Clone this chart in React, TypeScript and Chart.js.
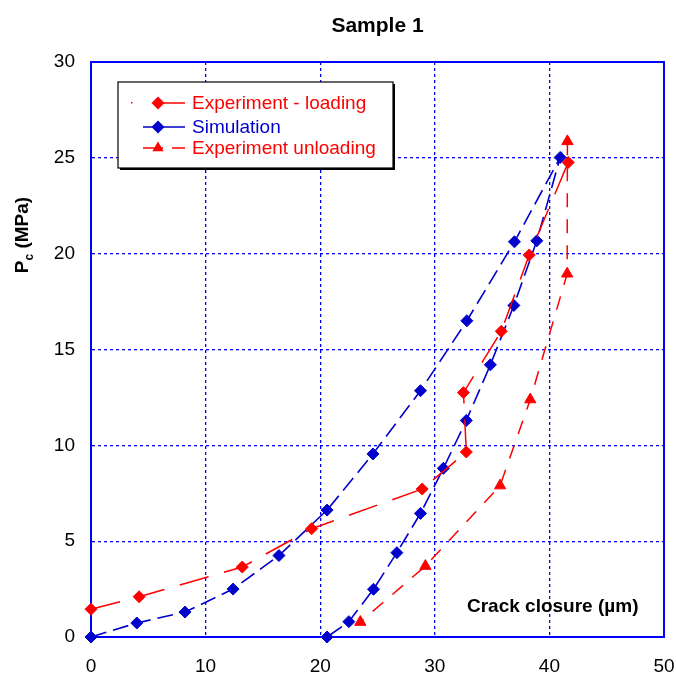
import React, { useEffect, useRef } from "react";
import { Chart, registerables } from "chart.js";

Chart.register(...registerables);

// ---- data ----
const chartTitle = "Sample 1";
const xAxisTitle = "Crack closure (µm)";
const yAxisMain = "P";
const yAxisSub = "c";
const yAxisRest = " (MPa)";
const xTicks = [0, 10, 20, 30, 40, 50];
const yTicks = [0, 5, 10, 15, 20, 25, 30];

const seriesNames = ["Experiment - loading", "Simulation", "Experiment unloading"];

const loadX = [0, 4.2, 13.2, 19.25, 28.9, 32.75, 32.5, 35.8, 38.24, 41.64];
const loadY = [1.45, 2.1, 3.65, 5.65, 7.72, 9.65, 12.75, 15.95, 19.93, 24.76];

const simX = [0, 4.0, 8.2, 12.4, 16.4, 20.6, 24.6, 28.75, 32.8, 36.95, 40.94, 38.9, 36.9, 34.85, 32.75, 30.75, 28.75, 26.69, 24.65, 22.5, 20.6];
const simY = [0, 0.73, 1.3, 2.5, 4.25, 6.62, 9.55, 12.85, 16.5, 20.62, 25.02, 20.67, 17.3, 14.2, 11.3, 8.8, 6.45, 4.4, 2.49, 0.8, 0];

const unloadX = [41.57, 41.55, 38.33, 35.7, 29.18, 23.5];
const unloadY = [25.86, 18.95, 12.39, 7.9, 3.7, 0.78];

// ---- styles ----
const FONT = '"Liberation Sans", Arial, sans-serif';
const RED = "#FF0000";
const BLUE = "#0000CC";
const GRID = "#0000FF";

const pts = (xs: number[], ys: number[]) => xs.map((x, i) => ({ x, y: ys[i] }));

const decor = {
  id: "decor",
  beforeDatasetsDraw(chart: any) {
    const { ctx, chartArea: a } = chart;
    ctx.save();
    ctx.strokeStyle = GRID;
    ctx.lineWidth = 2;
    ctx.setLineDash([]);
    ctx.strokeRect(a.left, a.top, a.right - a.left, a.bottom - a.top);
    ctx.restore();
  },
  afterDatasetsDraw(chart: any) {
    const { ctx, chartArea: a } = chart;
    ctx.save();
    // title
    ctx.fillStyle = "#000";
    ctx.font = `bold 21px ${FONT}`;
    ctx.textAlign = "center";
    ctx.textBaseline = "middle";
    ctx.fillText(chartTitle, (a.left + a.right) / 2, 26);

    // x axis title inside plot
    ctx.font = `bold 19px ${FONT}`;
    ctx.textAlign = "left";
    ctx.textBaseline = "alphabetic";
    ctx.fillText(xAxisTitle, a.right - 197, a.bottom - 25.5);

    // y axis title rotated
    ctx.save();
    ctx.translate(28, 235);
    ctx.rotate(-Math.PI / 2);
    ctx.font = `bold 19px ${FONT}`;
    const wP = ctx.measureText(yAxisMain).width;
    const wR = ctx.measureText(yAxisRest).width;
    ctx.font = `bold 12px ${FONT}`;
    const wc = ctx.measureText(yAxisSub).width;
    let x0 = -(wP + wc + wR) / 2;
    ctx.textAlign = "left";
    ctx.textBaseline = "alphabetic";
    ctx.font = `bold 19px ${FONT}`;
    ctx.fillText(yAxisMain, x0, 0);
    ctx.font = `bold 12px ${FONT}`;
    ctx.fillText(yAxisSub, x0 + wP, 5);
    ctx.font = `bold 19px ${FONT}`;
    ctx.fillText(yAxisRest, x0 + wP + wc, 0);
    ctx.restore();

    // legend box
    const bx = a.left + 27, by = a.top + 20, bw = 275, bh = 86;
    ctx.fillStyle = "#000";
    ctx.fillRect(bx + 2, by + 2, bw, bh);
    ctx.fillStyle = "#fff";
    ctx.fillRect(bx, by, bw, bh);
    ctx.strokeStyle = "#000";
    ctx.lineWidth = 1.2;
    ctx.strokeRect(bx, by, bw, bh);

    const rows = [by + 21, by + 45, by + 66];
    const mx = bx + 40;
    const colors = [RED, BLUE, RED];
    ctx.lineWidth = 1.5;
    // row 1
    ctx.strokeStyle = RED;
    ctx.fillStyle = RED;
    ctx.fillRect(bx + 13, rows[0] - 1, 1.5, 1.5);
    ctx.beginPath();
    ctx.moveTo(mx, rows[0]);
    ctx.lineTo(bx + 67, rows[0]);
    ctx.stroke();
    // row 2
    ctx.strokeStyle = BLUE;
    ctx.beginPath();
    ctx.moveTo(bx + 25, rows[1]);
    ctx.lineTo(bx + 67, rows[1]);
    ctx.stroke();
    // row 3
    ctx.strokeStyle = RED;
    ctx.beginPath();
    ctx.moveTo(bx + 25, rows[2]);
    ctx.lineTo(bx + 45, rows[2]);
    ctx.moveTo(bx + 54, rows[2]);
    ctx.lineTo(bx + 67, rows[2]);
    ctx.stroke();
    // markers
    const diamond = (cx: number, cy: number, r: number, c: string) => {
      ctx.fillStyle = c;
      ctx.beginPath();
      ctx.moveTo(cx - r, cy);
      ctx.lineTo(cx, cy - r);
      ctx.lineTo(cx + r, cy);
      ctx.lineTo(cx, cy + r);
      ctx.closePath();
      ctx.fill();
    };
    diamond(mx, rows[0], 6.5, RED);
    diamond(mx, rows[1], 6.5, BLUE);
    ctx.fillStyle = RED;
    ctx.beginPath();
    const r = 6.5;
    ctx.moveTo(mx, rows[2] - r);
    ctx.lineTo(mx + r * 0.866, rows[2] + r / 2);
    ctx.lineTo(mx - r * 0.866, rows[2] + r / 2);
    ctx.closePath();
    ctx.fill();

    ctx.font = `19px ${FONT}`;
    ctx.textAlign = "left";
    ctx.textBaseline = "middle";
    seriesNames.forEach((n, i) => {
      ctx.fillStyle = colors[i];
      ctx.fillText(n, bx + 74, rows[i] + 1);
    });
    ctx.restore();
  },
};

export default function App() {
  const ref = useRef<HTMLCanvasElement>(null);
  useEffect(() => {
    const canvas = ref.current;
    if (!canvas) return;
    const chart = new Chart(canvas, {
      type: "line",
      data: {
        datasets: [
          {
            label: seriesNames[0],
            data: pts(loadX, loadY),
            borderColor: RED,
            backgroundColor: RED,
            pointBackgroundColor: RED,
            pointBorderColor: RED,
            pointStyle: "rectRot",
            pointRadius: 6,
            pointBorderWidth: 1,
            borderWidth: 1.5,
            borderDash: [30, 16],
            tension: 0,
            fill: false,
            clip: false,
          } as any,
          {
            label: seriesNames[1],
            data: pts(simX, simY),
            borderColor: BLUE,
            backgroundColor: BLUE,
            pointBackgroundColor: BLUE,
            pointBorderColor: BLUE,
            pointStyle: "rectRot",
            pointRadius: 6,
            pointBorderWidth: 1,
            borderWidth: 1.6,
            borderDash: [16, 7],
            tension: 0,
            fill: false,
            clip: false,
          } as any,
          {
            label: seriesNames[2],
            data: pts(unloadX, unloadY),
            borderColor: RED,
            backgroundColor: RED,
            pointBackgroundColor: RED,
            pointBorderColor: RED,
            pointStyle: "triangle",
            pointRadius: 6.5,
            pointBorderWidth: 1,
            borderWidth: 1.5,
            borderDash: [14, 12],
            tension: 0,
            fill: false,
            clip: false,
          } as any,
        ],
      },
      options: {
        animation: false,
        responsive: false,
        maintainAspectRatio: false,
        layout: { padding: { top: 62, right: 12, left: 0, bottom: 0 } },
        plugins: {
          legend: { display: false },
          title: { display: false },
          tooltip: { enabled: false },
        },
        scales: {
          x: {
            type: "linear",
            min: xTicks[0],
            max: xTicks[xTicks.length - 1],
            afterBuildTicks: (s: any) => {
              s.ticks = xTicks.map((v) => ({ value: v }));
            },
            ticks: { color: "#000", font: { family: FONT, size: 19 }, padding: 18 },
            grid: { color: GRID, lineWidth: 1.3, drawTicks: false },
            border: { display: true, color: GRID, width: 2, dash: [3, 3] },
            afterFit: (s: any) => {
              s.height = 38;
              s.paddingLeft = 0;
              s.paddingRight = 0;
            },
          },
          y: {
            type: "linear",
            min: yTicks[0],
            max: yTicks[yTicks.length - 1],
            afterBuildTicks: (s: any) => {
              s.ticks = yTicks.map((v) => ({ value: v }));
            },
            ticks: { color: "#000", font: { family: FONT, size: 19 }, padding: 16 },
            grid: { color: GRID, lineWidth: 1.3, drawTicks: false },
            border: { display: true, color: GRID, width: 2, dash: [3, 3] },
            afterFit: (s: any) => {
              s.width = 91;
              s.paddingTop = 0;
              s.paddingBottom = 0;
            },
          },
        },
      } as any,
      plugins: [decor],
    });
    return () => chart.destroy();
  }, []);
  return (
    <div style={{ position: "fixed", left: 0, top: 0, width: 676, height: 675, background: "#fff" }}>
      <canvas ref={ref} width={676} height={675} style={{ display: "block" }} />
    </div>
  );
}
